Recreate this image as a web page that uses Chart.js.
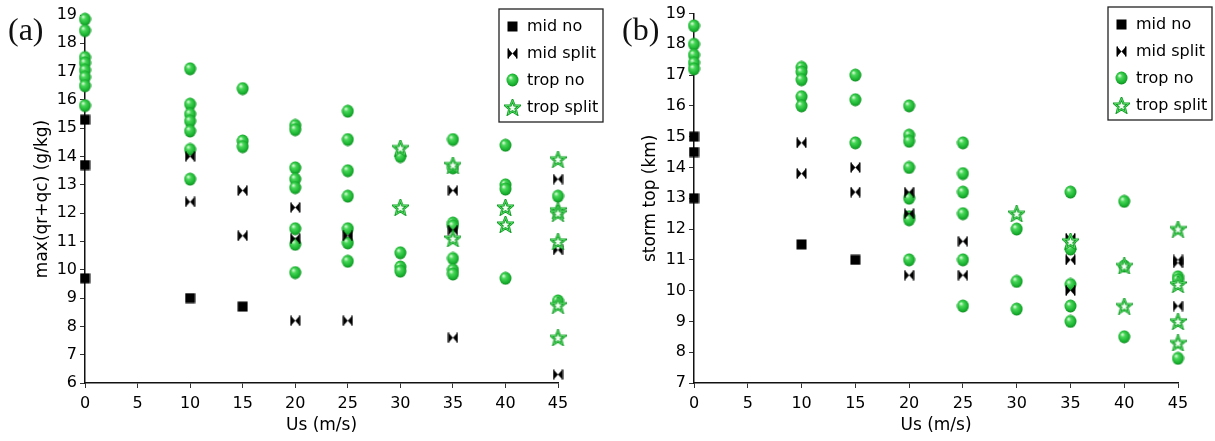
<!DOCTYPE html>
<html>
<head>
<meta charset="utf-8">
<script src="https://cdn.jsdelivr.net/npm/chart.js@4.4.1/dist/chart.umd.min.js"></script>
<style>
  body { margin: 0; background: #fff; }
  #wrap { position: relative; width: 1215px; height: 441px; }
  #chartA { position: absolute; left: 0; top: 0; }
  #chartB { position: absolute; left: 607px; top: 0; }
</style>
</head>
<body>
<div id="wrap">
  <canvas id="chartA" width="607" height="441"></canvas>
  <canvas id="chartB" width="608" height="441"></canvas>
</div>
<script>
// series labels
const seriesLabels = ["mid no", "mid split", "trop no", "trop split"];

// panel (a): max(qr+qc) (g/kg) vs Us (m/s), [x, y] pairs
const aMidNo = [[0, 15.3], [0, 13.7], [0, 9.7], [10, 9.0], [15, 8.7]];
const aMidSplit = [[10, 14.0], [10, 12.4], [15, 12.8], [15, 11.2], [20, 12.2], [20, 11.1], [20, 8.2],
  [25, 11.2], [25, 8.2], [35, 12.8], [35, 11.4], [35, 7.6], [45, 13.2], [45, 10.7], [45, 6.3]];
const aTropNo = [[0, 18.85], [0, 18.45], [0, 17.5], [0, 17.3], [0, 17.05], [0, 16.8], [0, 16.5], [0, 15.8],
  [10, 17.1], [10, 15.85], [10, 15.5], [10, 15.25], [10, 14.9], [10, 14.25], [10, 13.2],
  [15, 16.4], [15, 14.55], [15, 14.35],
  [20, 15.1], [20, 14.95], [20, 13.6], [20, 13.2], [20, 12.9], [20, 11.45], [20, 10.9], [20, 9.9],
  [25, 15.6], [25, 14.6], [25, 13.5], [25, 12.6], [25, 11.45], [25, 10.95], [25, 10.3],
  [30, 14.0], [30, 10.6], [30, 10.1], [30, 9.95],
  [35, 14.6], [35, 13.6], [35, 11.65], [35, 11.55], [35, 10.4], [35, 10.0], [35, 9.85],
  [40, 14.4], [40, 13.0], [40, 12.85], [40, 9.7],
  [45, 12.6], [45, 8.9]];
const aTropSplit = [[30, 14.3], [30, 12.2], [35, 13.7], [35, 11.1], [40, 12.2], [40, 11.6],
  [45, 13.9], [45, 12.1], [45, 12.0], [45, 11.0], [45, 8.75], [45, 7.6]];

// panel (b): storm top (km) vs Us (m/s)
const bMidNo = [[0, 15.0], [0, 14.5], [0, 13.0], [10, 11.5], [15, 11.0]];
const bMidSplit = [[10, 14.8], [10, 13.8], [15, 14.0], [15, 13.2], [20, 13.2], [20, 12.5], [20, 10.5],
  [25, 11.6], [25, 10.5], [35, 11.7], [35, 11.0], [35, 10.0], [45, 11.0], [45, 10.9], [45, 9.5]];
const bTropNo = [[0, 18.6], [0, 18.0], [0, 17.65], [0, 17.4], [0, 17.2],
  [10, 17.25], [10, 17.1], [10, 16.85], [10, 16.3], [10, 16.0],
  [15, 17.0], [15, 16.2], [15, 14.8],
  [20, 16.0], [20, 15.05], [20, 14.85], [20, 14.0], [20, 13.0], [20, 12.4], [20, 12.3], [20, 11.0],
  [25, 14.8], [25, 13.8], [25, 13.2], [25, 12.5], [25, 11.0], [25, 9.5],
  [30, 12.0], [30, 10.3], [30, 9.4],
  [35, 13.2], [35, 11.35], [35, 10.2], [35, 9.5], [35, 9.0],
  [40, 12.9], [40, 10.8], [40, 8.5],
  [45, 10.45], [45, 10.35], [45, 7.8]];
const bTropSplit = [[30, 12.5], [35, 11.6], [40, 10.8], [40, 9.5], [45, 12.0], [45, 10.2], [45, 9.0], [45, 8.3]];

// x ticks
const xMin = 0, xMax = 45, xStep = 5;

// ---- marker images ----
function newCanvas(w, h) {
  const c = document.createElement("canvas");
  c.width = w; c.height = h;
  return c;
}

function makeSquare() {
  const c = newCanvas(11, 11);
  const g = c.getContext("2d");
  g.fillStyle = "#000";
  g.fillRect(0.5, 0.5, 10, 10);
  return c;
}

function makeBowtie() {
  const c = newCanvas(11, 11);
  const g = c.getContext("2d");
  g.fillStyle = "#000";
  g.beginPath();
  g.moveTo(1, 0.5); g.lineTo(5.5, 5.5); g.lineTo(1, 10.5); g.closePath();
  g.moveTo(10, 0.5); g.lineTo(5.5, 5.5); g.lineTo(10, 10.5); g.closePath();
  g.fill();
  g.fillRect(0.5, 0.5, 1.5, 10);
  g.fillRect(9, 0.5, 1.5, 10);
  return c;
}

function makeSphere() {
  const c = newCanvas(13, 14);
  const g = c.getContext("2d");
  const grad = g.createRadialGradient(4.5, 4.5, 0.5, 6.5, 7, 7.5);
  grad.addColorStop(0, "#d4f8d4");
  grad.addColorStop(0.25, "#4ad85a");
  grad.addColorStop(0.7, "#18b02e");
  grad.addColorStop(1, "#0a7419");
  g.fillStyle = grad;
  g.beginPath();
  g.ellipse(6.5, 7, 6, 6.5, 0, 0, Math.PI * 2);
  g.fill();
  return c;
}

function makeStar() {
  const c = newCanvas(17, 17);
  const g = c.getContext("2d");
  const cx = 8.5, cy = 9, ro = 7.5, ri = 3.3;
  g.beginPath();
  for (let i = 0; i < 10; i++) {
    const r = i % 2 === 0 ? ro : ri;
    const a = -Math.PI / 2 + i * Math.PI / 5;
    const px = cx + r * Math.cos(a), py = cy + r * Math.sin(a);
    if (i === 0) g.moveTo(px, py); else g.lineTo(px, py);
  }
  g.closePath();
  g.fillStyle = "#f4fff4";
  g.fill();
  g.lineWidth = 2.4;
  g.strokeStyle = "#0e9a22";
  g.stroke();
  g.lineWidth = 0.9;
  g.strokeStyle = "#5fe06c";
  g.stroke();
  return c;
}

const markers = [makeSquare(), makeBowtie(), makeSphere(), makeStar()];
const drawOrder = [3, 1, 2, 0]; // lower = drawn on top

// ---- plugins ----
const boxLegend = {
  id: "boxLegend",
  afterDraw(chart, args, opts) {
    const ctx = chart.ctx;
    ctx.save();
    ctx.fillStyle = "#fff";
    ctx.fillRect(opts.x, opts.y, opts.w, opts.h);
    ctx.strokeStyle = "#222";
    ctx.lineWidth = 1.3;
    ctx.strokeRect(opts.x, opts.y, opts.w, opts.h);
    ctx.font = '16px "DejaVu Sans"';
    ctx.fillStyle = "#000";
    ctx.textBaseline = "middle";
    chart.data.datasets.forEach((ds, i) => {
      const rowY = opts.firstRow + i * opts.rowStep;
      const img = ds.pointStyle;
      ctx.drawImage(img, Math.round(opts.markerX - img.width / 2), Math.round(rowY - img.height / 2));
      ctx.fillText(ds.label, opts.textX, rowY + 1);
    });
    ctx.restore();
  }
};

const panelLabel = {
  id: "panelLabel",
  afterDraw(chart, args, opts) {
    const ctx = chart.ctx;
    ctx.save();
    ctx.font = '32px "Liberation Serif"';
    ctx.fillStyle = "#111";
    ctx.textBaseline = "alphabetic";
    ctx.fillText(opts.text, opts.x, opts.y);
    ctx.restore();
  }
};

function makeChart(id, series, yMin, yMax, yTitle, cfg) {
  const datasets = series.map((pts, i) => ({
    label: seriesLabels[i],
    data: pts.map(p => ({ x: p[0], y: p[1] })),
    pointStyle: markers[i],
    pointRadius: 6,
    pointHoverRadius: 6,
    showLine: false,
    order: drawOrder[i],
    clip: false
  }));

  const tickFont = { family: "DejaVu Sans", size: 16 };
  const titleFont = { family: "DejaVu Sans", size: 17 };

  return new Chart(document.getElementById(id), {
    type: "scatter",
    data: { datasets: datasets },
    options: {
      responsive: false,
      animation: false,
      events: [],
      layout: { padding: cfg.padding },
      plugins: {
        legend: { display: false },
        tooltip: { enabled: false },
        boxLegend: cfg.legend,
        panelLabel: cfg.label
      },
      scales: {
        x: {
          type: "linear",
          min: xMin,
          max: xMax,
          ticks: { stepSize: xStep, color: "#000", font: tickFont, padding: 6, maxRotation: 0 },
          grid: { drawOnChartArea: false, drawTicks: true, tickLength: 5, tickColor: "#333" },
          border: { color: "#111", width: 1.5 },
          title: { display: true, text: "Us (m/s)", color: "#000", font: titleFont, padding: { top: 0, bottom: 5 } },
          afterFit: s => { s.height = 58; }
        },
        y: {
          type: "linear",
          min: yMin,
          max: yMax,
          ticks: { stepSize: 1, color: "#000", font: tickFont, padding: 3 },
          grid: { drawOnChartArea: false, drawTicks: true, tickLength: 5, tickColor: "#333" },
          border: { color: "#111", width: 1.5 },
          title: { display: true, text: yTitle, color: "#000", font: titleFont, padding: { top: cfg.yTitlePad, bottom: 0 } },
          afterFit: s => { s.width = cfg.yAxisWidth; }
        }
      }
    },
    plugins: [boxLegend, panelLabel]
  });
}

makeChart("chartA", [aMidNo, aMidSplit, aTropNo, aTropSplit], 6, 19, "max(qr+qc) (g/kg)", {
  padding: { left: 0, right: 49, top: 15, bottom: 0 },
  yAxisWidth: 85,
  yTitlePad: 32,
  legend: { x: 499, y: 9, w: 104, h: 113, markerX: 512, textX: 527, firstRow: 26, rowStep: 27 },
  label: { text: "(a)", x: 8, y: 40 }
});

makeChart("chartB", [bMidNo, bMidSplit, bTropNo, bTropSplit], 7, 19, "storm top (km)", {
  padding: { left: 0, right: 37, top: 13.5, bottom: 0 },
  yAxisWidth: 87,
  yTitlePad: 33,
  legend: { x: 501, y: 7, w: 104, h: 113, markerX: 514, textX: 529, firstRow: 24, rowStep: 27 },
  label: { text: "(b)", x: 15, y: 40 }
});
</script>
</body>
</html>
